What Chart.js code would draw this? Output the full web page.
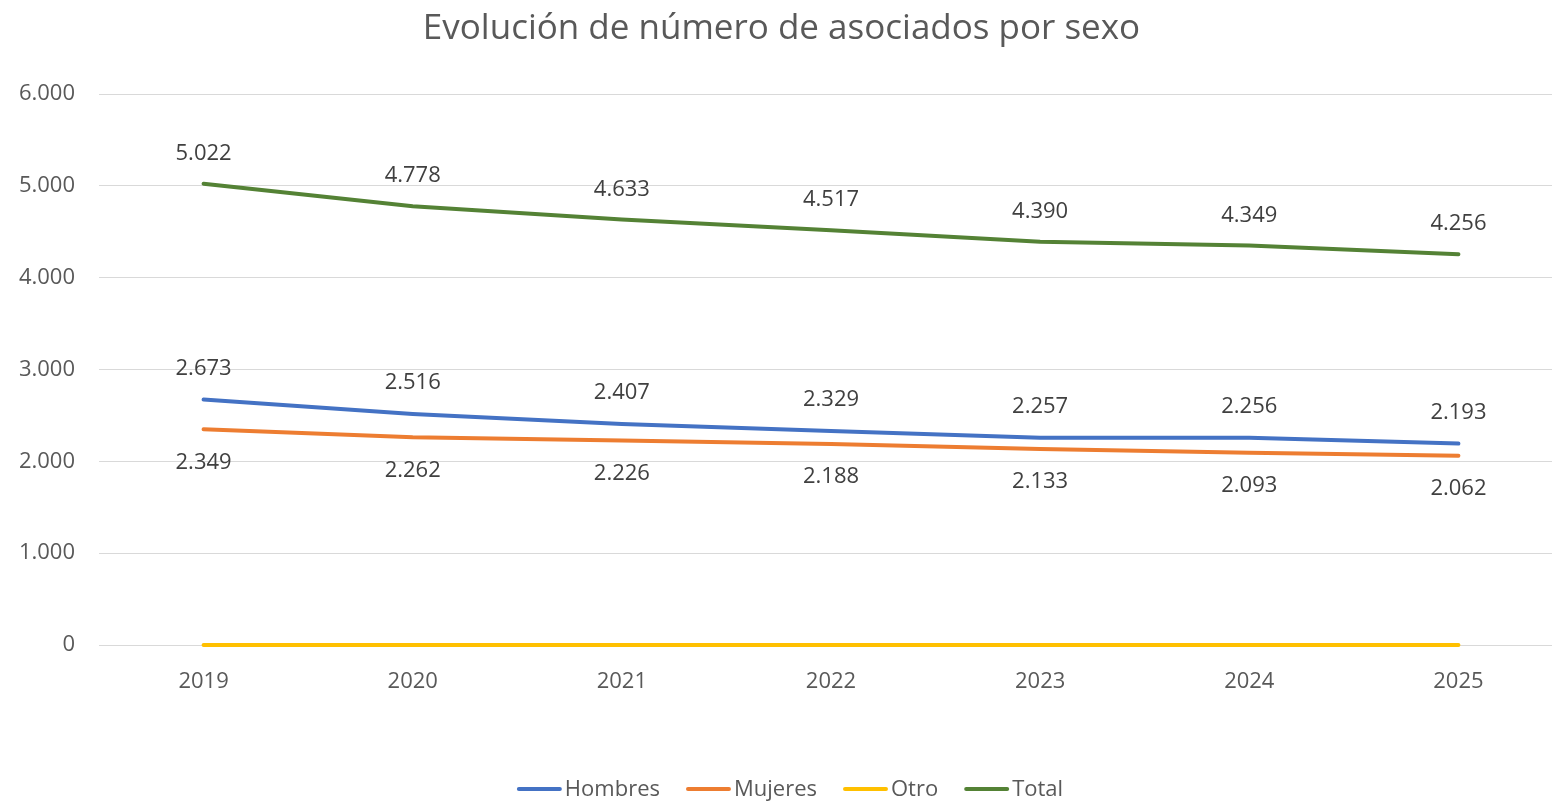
<!DOCTYPE html>
<html>
<head>
<meta charset="utf-8">
<script src="https://cdn.jsdelivr.net/npm/chart.js@4.4.1/dist/chart.umd.min.js"></script>
<style>
    body { margin: 0; overflow: hidden; background: #fff; }
    #wrap { width: 1574px; height: 801px; }
</style>
</head>
<body>
<div id="wrap"><canvas id="myChart" width="1574" height="801"></canvas></div>
<script>
var years = ["2019", "2020", "2021", "2022", "2023", "2024", "2025"];
var hombres = [2673, 2516, 2407, 2329, 2257, 2256, 2193];
var mujeres = [2349, 2262, 2226, 2188, 2133, 2093, 2062];
var otro = [0, 0, 0, 0, 0, 0, 1];
var total = [5022, 4778, 4633, 4517, 4390, 4349, 4256];
var yTicks = [0, 1000, 2000, 3000, 4000, 5000, 6000];

var FONT = "'Open Sans', 'Noto Sans', sans-serif";
var GREY = "#595959";

function fmt(v) {
    return String(v).replace(/\B(?=(\d{3})+(?!\d))/g, ".");
}

// value labels above / below the points
var labelPlugin = {
    id: 'valueLabels',
    afterDatasetsDraw: function(chart) {
        var ctx = chart.ctx;
        ctx.save();
        ctx.font = "22px " + FONT;
        ctx.fillStyle = "#404040";
        ctx.textAlign = "center";
        ctx.textBaseline = "middle";
        chart.data.datasets.forEach(function(ds, i) {
            if (!ds.labelOffset) return;
            var meta = chart.getDatasetMeta(i);
            meta.data.forEach(function(pt, j) {
                ctx.fillText(fmt(ds.data[j]), pt.x, pt.y + ds.labelOffset);
            });
        });
        ctx.restore();
    }
};

// excel style legend: short line then text
var legendPlugin = {
    id: 'lineLegend',
    afterDraw: function(chart) {
        var ctx = chart.ctx;
        var lineW = 45, gap = 3, space = 26;
        ctx.save();
        ctx.font = "22px " + FONT;
        var widths = chart.data.datasets.map(function(ds) {
            return lineW + gap + ctx.measureText(ds.label).width;
        });
        var full = widths.reduce(function(a, b) { return a + b; }, 0) + space * (widths.length - 1);
        var x = chart.width / 2 - full / 2 + 3;
        var y = 790;
        chart.data.datasets.forEach(function(ds, i) {
            ctx.strokeStyle = ds.borderColor;
            ctx.lineWidth = 4;
            ctx.lineCap = "round";
            ctx.beginPath();
            ctx.moveTo(x + 2, y - 1);
            ctx.lineTo(x + lineW - 2, y - 1);
            ctx.stroke();
            ctx.fillStyle = GREY;
            ctx.textBaseline = "middle";
            ctx.fillText(ds.label, x + lineW + gap, y);
            x += widths[i] + space;
        });
        ctx.restore();
    }
};

var ctx = document.getElementById('myChart').getContext('2d');
var myChart = new Chart(ctx, {
    type: 'line',
    data: {
        labels: years,
        datasets: [{
                label: 'Hombres',
                data: hombres,
                borderColor: '#4472C4',
                labelOffset: -31
            },
            {
                label: 'Mujeres',
                data: mujeres,
                borderColor: '#ED7D31',
                labelOffset: 33
            },
            {
                label: 'Otro',
                data: otro,
                borderColor: '#FFC000'
            },
            {
                label: 'Total',
                data: total,
                borderColor: '#548235',
                labelOffset: -30
            }
        ]
    },
    plugins: [labelPlugin, legendPlugin],
    options: {
        responsive: false,
        animation: false,
        layout: { padding: { left: 0, right: 11, top: 0, bottom: 26 } },
        datasets: { line: { clip: false } },
        elements: {
            line: { borderWidth: 4, tension: 0, borderCapStyle: 'round', fill: false },
            point: { radius: 0, hoverRadius: 0 }
        },
        plugins: {
            legend: { display: false },
            tooltip: { enabled: false },
            title: {
                display: true,
                text: 'Evolución de número de asociados por sexo',
                color: GREY,
                font: { family: FONT, size: 35, weight: 'normal', lineHeight: 1.2 },
                padding: { top: 8, bottom: 44 }
            }
        },
        scales: {
            x: {
                offset: true,
                grid: { display: false, drawTicks: false },
                border: { display: true, color: '#d9d9d9', width: 1 },
                ticks: { color: GREY, font: { family: FONT, size: 22 }, padding: 24 },
                afterFit: function(s) { s.height = 130; }
            },
            y: {
                min: 0,
                max: 6000,
                afterBuildTicks: function(s) {
                    s.ticks = yTicks.map(function(v) { return { value: v }; });
                },
                grid: { color: '#d9d9d9', lineWidth: 1, drawTicks: false },
                border: { display: false },
                ticks: {
                    color: GREY,
                    font: { family: FONT, size: 22 },
                    padding: 24,
                    callback: function(v) { return fmt(v); }
                },
                afterFit: function(s) { s.width = 99; }
            }
        }
    }
});
</script>
</body>
</html>
